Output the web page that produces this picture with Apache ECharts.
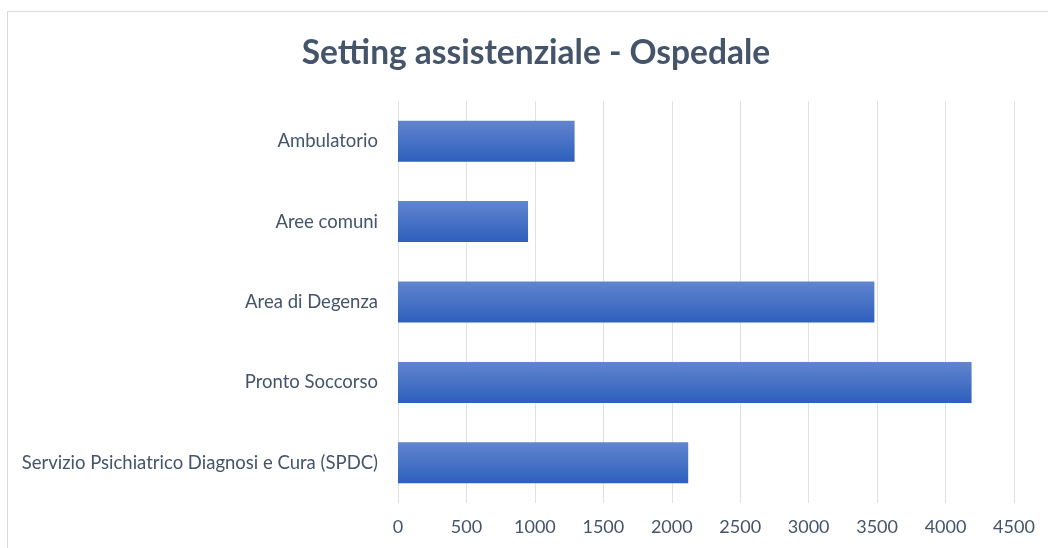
<!DOCTYPE html>
<html>
<head>
<meta charset="utf-8">
<script src="https://cdn.jsdelivr.net/npm/echarts@6/dist/echarts.min.js"></script>
<style>html,body{margin:0;padding:0;background:#fff}#c{width:1048px;height:548px}</style>
</head>
<body>
<div id="c"></div>
<script>
var categories = ["Servizio Psichiatrico Diagnosi e Cura (SPDC)", "Pronto Soccorso", "Area di Degenza", "Aree comuni", "Ambulatorio"];
var values = [2120, 4190, 3480, 950, 1290];
var tickMax = 4500;
var tickStep = 500;

var chart = echarts.init(document.getElementById('c'));
chart.setOption({
  animation: false,
  backgroundColor: '#fff',
  title: {
    text: 'Setting assistenziale - Ospedale',
    left: 531, top: 31, textAlign: 'center',
    textStyle: { fontFamily: 'Lato', fontWeight: 'bold', fontSize: 33.5, color: '#44546a' }
  },
  graphic: [{
    type: 'rect', silent: true,
    shape: { x: 7.5, y: 11.5, width: 1100, height: 600 },
    style: { fill: 'none', stroke: '#d9d9d9', lineWidth: 1 }
  }],
  grid: { left: 398, right: 34, top: 101, bottom: 45, containLabel: false },
  xAxis: {
    type: 'value', min: 0, max: tickMax, interval: tickStep,
    axisLine: { show: false }, axisTick: { show: false },
    splitLine: { show: true, lineStyle: { color: '#dde1e8', width: 1 } },
    axisLabel: { margin: 15, fontFamily: 'Lato', fontSize: 18, color: '#44546a', formatter: function (v) { return String(v); } }
  },
  yAxis: {
    type: 'category', data: categories,
    axisLine: { show: false }, axisTick: { show: false },
    axisLabel: { margin: 20, fontFamily: 'Lato', fontSize: 18.5, color: '#44546a' }
  },
  series: [{
    type: 'bar', data: values, barWidth: '51%',
    itemStyle: {
      color: new echarts.graphic.LinearGradient(0, 0, 0, 1, [
        { offset: 0, color: '#6185cf' },
        { offset: 1, color: '#2e5fbd' }
      ])
    }
  }]
});
</script>
</body>
</html>
